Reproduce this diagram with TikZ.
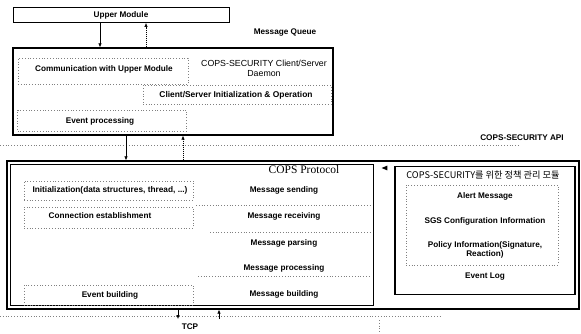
\documentclass[tikz,border=0pt]{standalone}
\usepackage{fontspec}
\setmainfont{Liberation Serif}
\setsansfont{Liberation Sans}
\newfontfamily\kor{Noto Sans CJK KR}
\usetikzlibrary{arrows.meta,calc,shapes.geometric}
\begin{document}
\begin{tikzpicture}[x=1pt,y=-1pt,
  lbl/.style={font=\sffamily\bfseries\fontsize{8.2}{9}\selectfont, inner sep=0pt},
  plain/.style={font=\sffamily\fontsize{8.8}{10}\selectfont, inner sep=0pt, align=center},
  thickbox/.style={draw, line width=1.3pt, inner sep=0pt},
  thinbox/.style={draw, line width=0.6pt, inner sep=0pt},
  dotbox/.style={draw=gray, line width=0.4pt, dash pattern=on 0.8pt off 2pt, inner sep=0pt},
  dotline/.style={draw=gray, line width=0.4pt, dash pattern=on 0.8pt off 2pt},
  arr/.style={-{Latex[length=4pt,width=3.5pt]}, line width=0.6pt},
  darr/.style={-{Latex[length=4pt,width=3.5pt]}, line width=0.6pt, dash pattern=on 1pt off 1pt}]
\useasboundingbox (0,0) rectangle (581,334);

% Upper module
\node[thinbox, line width=0.9pt, minimum width=216pt, minimum height=15pt] (upper) at (121,15) {};
\node[lbl] (uplbl) at (121,15) {Upper Module};
\node[lbl] (mq) at (285,33) {Message Queue};

% Daemon box
\node[thickbox, minimum width=320pt, minimum height=87pt] (daemon) at (173,91.5) {};
\node[dotbox, minimum width=170pt, minimum height=26pt] (commbox) at (103,71) {};
\node[lbl] (comm) at (104,69) {Communication with Upper Module};
\node[plain] (dtitle) at (264,68) {COPS-SECURITY Client/Server\\Daemon};
\node[dotbox, minimum width=188pt, minimum height=19pt] (csbox) at (237,95) {};
\node[lbl, font=\sffamily\bfseries\fontsize{8.4}{9}\selectfont] (cs) at (236,95) {Client/Server Initialization \& Operation};
\node[dotbox, minimum width=169pt, minimum height=21pt] (evbox) at (102,120.5) {};
\node[lbl] (ev) at (100,121) {Event processing};

% arrows upper <-> daemon
\coordinate (c1) at (100,0);
\coordinate (c2) at (146,0);
\draw[arr] (upper.south -| c1) -- (daemon.north -| c1);
\draw[darr] (daemon.north -| c2) -- (upper.south -| c2);

% API line
\coordinate (apiL) at (0,145);
\coordinate (apiR) at (520,145);
\draw[dotline] (apiL) -- (apiR);
\node[lbl] (api) at (522,138) {COPS-SECURITY API};

% Bottom outer box
\node[thickbox, minimum width=572pt, minimum height=148pt] (outer) at (293,235) {};
\coordinate (c3) at (126,0);
\coordinate (c4) at (183,0);
\draw[arr] (daemon.south -| c3) -- (outer.north -| c3);
\draw[darr] (outer.north -| c4) -- (daemon.south -| c4);

% COPS protocol box
\node[thinbox, minimum width=363pt, minimum height=141pt] (cops) at (191.5,234.5) {};
\node[font=\fontsize{11.5}{12}\selectfont, inner sep=0pt] (copst) at (304,170) {COPS Protocol};

\node[dotbox, minimum width=169pt, minimum height=19pt] (initbox) at (108.5,190.5) {};
\node[lbl, font=\sffamily\bfseries\fontsize{8.3}{9}\selectfont] (init) at (110,190) {Initialization(data structures, thread, ...)};
\node[dotbox, minimum width=169pt, minimum height=21pt] (connbox) at (108.5,217.5) {};
\node[lbl] (conn) at (100,216) {Connection establishment};
\node[dotbox, minimum width=169pt, minimum height=20pt] (ebbox) at (108.5,295) {};
\node[lbl] (eb) at (110,295) {Event building};

\node[lbl] (ms) at (284,190) {Message sending};
\node[lbl] (mr) at (284,216) {Message receiving};
\node[lbl] (mp) at (284,243) {Message parsing};
\node[lbl] (mpr) at (284,268) {Message processing};
\node[lbl] (mb) at (284,294) {Message building};
\coordinate (s1a) at (196,205); \coordinate (s1b) at (370,205);
\coordinate (s2a) at (210,232); \coordinate (s2b) at (370,232);
\coordinate (s3a) at (198,276); \coordinate (s3b) at (370,276);
\draw[dotline] (s1a) -- (s1b);
\draw[dotline] (s2a) -- (s2b);
\draw[dotline] (s3a) -- (s3b);

% small triangle
\node[fill=black, isosceles triangle, shape border rotate=180, minimum width=0pt, minimum height=0pt, inner sep=1.3pt] (tri) at (386,168) {};

% Right box
\node[thickbox, minimum width=180pt, minimum height=128pt] (rbox) at (485,230.5) {};
\node[plain, font=\kor\fontsize{9.2}{10}\selectfont] (rtitle) at (483,175) {COPS-SECURITY를 위한 정책 관리 모듈};
\node[dotbox, minimum width=152pt, minimum height=80pt] (ribox) at (482,225) {};
\node[lbl] (alert) at (485,196) {Alert Message};
\node[lbl] (sgs) at (485,221) {SGS Configuration Information};
\node[lbl, align=center] (pol) at (485,250) {Policy Information(Signature,\\Reaction)};
\node[lbl] (elog) at (485,277) {Event Log};

% Bottom arrows and TCP
\coordinate (tcpL) at (0,316);
\coordinate (tcpR) at (440,316);
\draw[dotline] (tcpL) -- (tcpR);
\coordinate (tcpv1) at (379,320);
\coordinate (tcpv2) at (379,334);
\draw[dotline] (tcpv1) -- (tcpv2);
\node[lbl] (tcp) at (190,327) {TCP};
\coordinate (c5) at (178,0);
\coordinate (c6) at (219,0);
\coordinate (tcpTop) at (0,319);
\draw[arr] (outer.south -| c5) -- (tcpTop -| c5);
\draw[arr] (tcpTop -| c6) -- (outer.south -| c6);
\end{tikzpicture}
\end{document}
